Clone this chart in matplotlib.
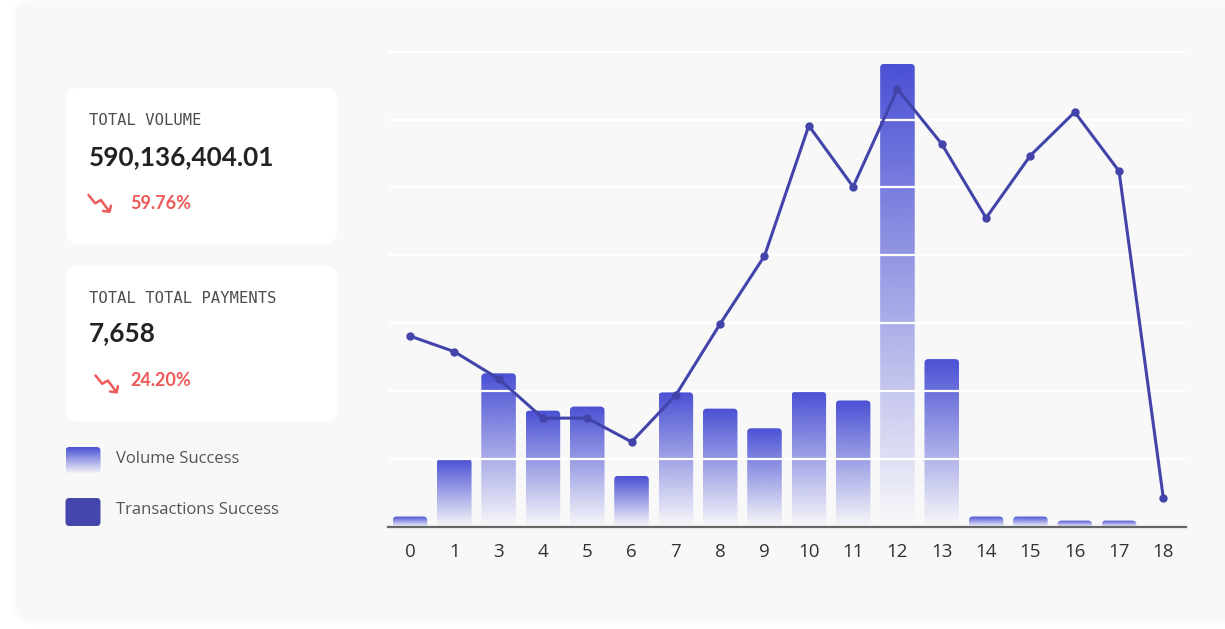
import numpy as np
import matplotlib
matplotlib.use("Agg")
import matplotlib.pyplot as plt
from matplotlib.patches import FancyBboxPatch

# ---------------- data ----------------
categories = ['0', '1', '3', '4', '5', '6', '7', '8', '9', '10', '11', '12',
              '13', '14', '15', '16', '17', '18']
volume_success = [0.15, 1.00, 2.26, 1.71, 1.77, 0.75, 1.98, 1.74, 1.45, 1.99,
                  1.86, 6.82, 2.47, 0.15, 0.15, 0.09, 0.09, 0.0]
transactions_success = [2.81, 2.58, 2.18, 1.60, 1.60, 1.25, 1.94, 2.99, 3.99,
                        5.91, 5.01, 6.45, 5.64, 4.55, 5.47, 6.11, 5.24, 0.42]
grid_ticks = [0, 1, 2, 3, 4, 5, 6, 7]

kpi_titles = ['TOTAL VOLUME', 'TOTAL TOTAL PAYMENTS']
kpi_values = ['590,136,404.01', '7,658']
kpi_changes = ['59.76%', '24.20%']
legend_labels = ['Volume Success', 'Transactions Success']

# ---------------- style ----------------
W, H = 1225, 629
BAR_TOP = np.array([74, 80, 212]) / 255.0
LINE_C = '#4244aa'
RED = '#ee5a5a'
CARD_BG = '#f8f8f9'
FONT = ['Lato', 'DejaVu Sans']
FONT2 = ['Open Sans', 'DejaVu Sans']

fig = plt.figure(figsize=(W / 100, H / 100), dpi=100, facecolor='white')

# background canvas in pixel coordinates
bg = fig.add_axes([0, 0, 1, 1], zorder=0)
bg.set_xlim(0, W)
bg.set_ylim(H, 0)
bg.axis('off')

# soft shadow + main card
for i, a in enumerate([0.04, 0.04, 0.04, 0.04]):
    g = 8 - i * 2
    bg.add_patch(FancyBboxPatch((19 - g, 5 - g), 1260 + 2 * g, 612 + 2 * g,
                                boxstyle="round,pad=0,rounding_size=%g" % (16 + g),
                                facecolor='#dcdcf0', edgecolor='none', alpha=a))
bg.add_patch(FancyBboxPatch((19, 5), 1260, 612,
                            boxstyle="round,pad=0,rounding_size=16",
                            facecolor=CARD_BG, edgecolor='none'))

# KPI cards
card_tops = [88, 266]
for k, top in enumerate(card_tops):
    bg.add_patch(FancyBboxPatch((66, top), 271, 155.5,
                                boxstyle="round,pad=0,rounding_size=11",
                                facecolor='white', edgecolor='none'))
    bg.text(89, top + 37, kpi_titles[k], family=['DejaVu Sans Mono'],
            fontsize=11.2, color='#4d4d4d', va='baseline')

bg.text(89, 165, kpi_values[0], family=FONT, fontsize=18.8, fontweight='bold',
        color='#222222', va='baseline')
bg.text(89, 341.5, kpi_values[1], family=FONT, fontsize=18.8, fontweight='bold',
        color='#222222', va='baseline')
bg.text(130, 209, kpi_changes[0], family=FONT, fontsize=13, fontweight='bold',
        color=RED, va='baseline')
bg.text(130, 386.5, kpi_changes[1], family=FONT, fontsize=13, fontweight='bold',
        color=RED, va='baseline')


def trend_down(x0, y0):
    xs = [x0, x0 + 6.7, x0 + 12.4, x0 + 21]
    ys = [y0, y0 + 8.3, y0 + 5, y0 + 16.7]
    bg.plot(xs, ys, color=RED, lw=1.8, solid_capstyle='round',
            solid_joinstyle='round')
    bg.plot([x0 + 14.5, x0 + 21, x0 + 22.4], [y0 + 16, y0 + 16.7, y0 + 10.7],
            color=RED, lw=1.8, solid_capstyle='round', solid_joinstyle='round')


trend_down(88.5, 195)
trend_down(95.5, 375.5)

# legend
grad = np.ones((256, 1, 4))
grad[:, 0, :3] = BAR_TOP
grad[:, 0, 3] = np.linspace(1.0, 0.0, 256)

icon1 = FancyBboxPatch((65.5, 447), 35, 26.5, boxstyle="round,pad=0,rounding_size=4",
                       facecolor='none', edgecolor='none')
bg.add_patch(icon1)
im = bg.imshow(grad, extent=[65.5, 100.5, 474, 447], aspect='auto',
               interpolation='bilinear', zorder=2)
im.set_clip_path(icon1)
bg.add_patch(FancyBboxPatch((65.5, 498), 35, 28, boxstyle="round,pad=0,rounding_size=4",
                            facecolor='#4346aa', edgecolor='none'))
bg.text(116, 463.3, legend_labels[0], family=FONT2, fontsize=12,
        color='#555555', va='baseline')
bg.text(116, 514, legend_labels[1], family=FONT2, fontsize=12,
        color='#555555', va='baseline')
bg.set_xlim(0, W)
bg.set_ylim(H, 0)

# ---------------- main chart ----------------
x_left, x_right = 387.8, 1185.5
y_base, y_top = 526.7, 48.3
ax = fig.add_axes([x_left / W, (H - y_base) / H, (x_right - x_left) / W,
                   (y_base - y_top) / H], zorder=1)
ax.set_facecolor('none')
x = np.arange(len(categories))
ymax = 7.05
ax.set_xlim(-0.5, len(categories) - 0.5)
ax.set_ylim(0, ymax)

px_per_x = (x_right - x_left) / len(categories)
px_per_y = (y_base - y_top) / ymax
bw = 0.78
r_x = 4.0 / px_per_x
aspect = (4.0 / px_per_y) / r_x
ext = 0.3

for xi, h in zip(x, volume_success):
    if h <= 0:
        continue
    clip = FancyBboxPatch((xi - bw / 2, -ext), bw, h + ext,
                          boxstyle="round,pad=0,rounding_size=%g" % r_x,
                          mutation_aspect=aspect,
                          facecolor='none', edgecolor='none')
    ax.add_patch(clip)
    im = ax.imshow(grad, extent=[xi - bw / 2, xi + bw / 2, 0, h],
                   aspect='auto', interpolation='bilinear', origin='upper',
                   zorder=1)
    im.set_clip_path(clip)

ax.set_xlim(-0.5, len(categories) - 0.5)
ax.set_ylim(0, ymax)

# white grid lines over the bars
ax.set_yticks(grid_ticks)
ax.yaxis.grid(True, color='white', lw=1.6, zorder=2)
ax.set_axisbelow(False)
ax.tick_params(axis='y', length=0, labelleft=False)

ax.plot(x, transactions_success, color=LINE_C, lw=2.2, marker='o',
        markersize=5, zorder=4)

ax.set_xticks(x)
ax.set_xticklabels(categories, family=FONT2, fontsize=13.5, color='#333333')
ax.tick_params(axis='x', length=0, pad=12)
for s in ['top', 'right', 'left']:
    ax.spines[s].set_visible(False)
ax.spines['bottom'].set_color('#666666')
ax.spines['bottom'].set_linewidth(1.6)
ax.spines['bottom'].set_zorder(3)

fig.savefig('out.png', dpi=100, facecolor='white')
